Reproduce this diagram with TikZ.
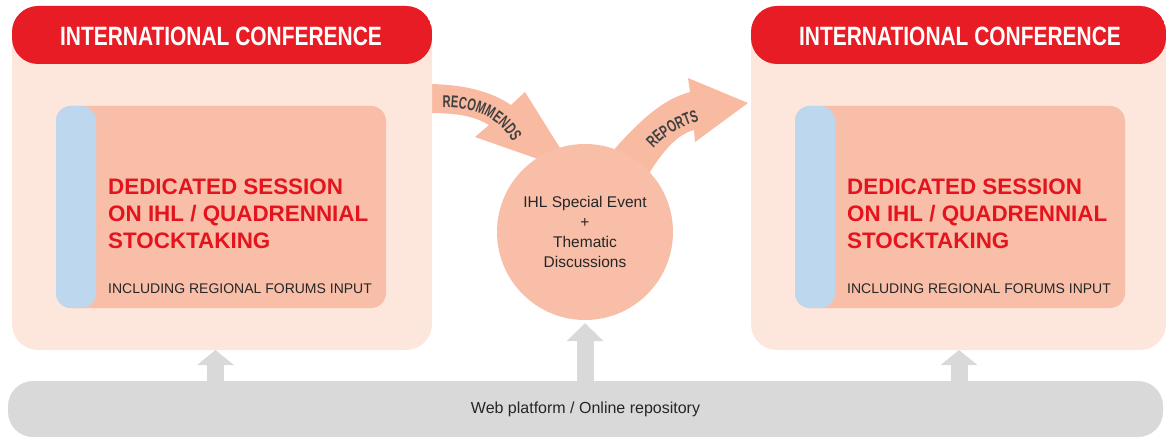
\documentclass[tikz,border=0pt]{standalone}
\usepackage{fontspec}
\setmainfont{Liberation Sans}
\newfontfamily\condfont[FakeStretch=0.79]{Liberation Sans}
\newfontfamily\arrowfont[FakeStretch=0.66, Scale=1.7]{Liberation Sans}
\usetikzlibrary{positioning, arrows.meta, calc, decorations.text}
\definecolor{hdrred}{HTML}{E81C24}
\definecolor{peach}{HTML}{FDE6DC}
\definecolor{salmon}{HTML}{F8BEA8}
\definecolor{arrowfill}{HTML}{F8BBA2}
\definecolor{stripblue}{HTML}{BDD7EE}
\definecolor{platgray}{HTML}{D9D9D9}
\definecolor{sessred}{HTML}{E3141D}
\definecolor{arrowtxt}{HTML}{404040}
\newcommand{\arrowlabel}{\arrowfont\bfseries\color{arrowtxt}}

\begin{document}
\begin{tikzpicture}[x=1pt, y=-1pt]
		\tikzstyle{conf} = [rectangle, rounded corners=26pt, fill=peach, minimum width=420pt, minimum height=344pt, inner sep=0,
		path picture={\fill[hdrred] (path picture bounding box.north west) rectangle ([yshift=-58pt]path picture bounding box.north east);}]
		\tikzstyle{session} = [rectangle, rounded corners=15pt, fill=salmon, minimum width=330pt, minimum height=202pt, inner sep=0,
		path picture={\fill[stripblue] (path picture bounding box.north west) rectangle ([xshift=40pt]path picture bounding box.south west);}]
		\tikzstyle{conftitle} = [text=white, font=\condfont\bfseries\fontsize{26.5}{30}\selectfont, inner sep=0, anchor=base]
		\tikzstyle{sesstext} = [text=sessred, font=\bfseries\fontsize{22.4}{27}\selectfont, align=left, inner sep=0, anchor=north west]
		\tikzstyle{inputtext} = [text=black!85, font=\fontsize{14}{16}\selectfont, inner sep=0, anchor=base west]
		\tikzstyle{uparrow} = [draw=platgray, line width=17pt, -{Triangle[length=15pt, width=36pt]}]
		\useasboundingbox (0,0) rectangle (1166,438);
		
		% curved block arrows
		\fill[arrowfill] (425,84) .. controls (465,84) and (492,92) .. (511,105) -- (525,92) -- (575,172) -- (475,137) -- (489,125) .. controls (472,115) and (455,113) .. (425,113) -- cycle;
		\fill[arrowfill] (605,160) .. controls (635,125) and (660,100) .. (690,92) -- (688,78) -- (748,103) -- (695,142) -- (694,130) .. controls (675,135) and (660,155) .. (645,180) -- cycle;
		\path[decorate, decoration={text along path, text align=center, text={|\arrowlabel|RECOMMENDS}}] (437,108) .. controls (478,105) and (503,121) .. (515,147);
		\path[decorate, decoration={text along path, text align=center, text={|\arrowlabel|REPORTS}}] (645,159) .. controls (662,136) and (680,125) .. (712,118);
		
		\node [circle, fill=salmon, minimum size=176pt, inner sep=0, align=center, text=black!85, font=\fontsize{15.5}{19.7}\selectfont] (event) at (585,232) {IHL Special Event\\+\\Thematic\\Discussions};
		
		% conferences
		\node [conf] (confL) at (222,178) {};
		\node [conf, minimum width=415pt] (confR) at (958.5,178) {};
		\node [conftitle] (titleL) at (221,46) {INTERNATIONAL CONFERENCE};
		\node [conftitle] (titleR) at (960,46) {INTERNATIONAL CONFERENCE};
		\node [session] (sessL) at (221,207) {};
		\node [session] (sessR) at (960,207) {};
		\node [sesstext] (dedL) at (108,179) {DEDICATED SESSION\\ON IHL / QUADRENNIAL\\STOCKTAKING};
		\node [sesstext] (dedR) at (847,179) {DEDICATED SESSION\\ON IHL / QUADRENNIAL\\STOCKTAKING};
		\node [inputtext] (inL) at (108,293) {INCLUDING REGIONAL FORUMS INPUT};
		\node [inputtext] (inR) at (847,293) {INCLUDING REGIONAL FORUMS INPUT};
		
		% platform
		\node [rectangle, rounded corners=25pt, fill=platgray, minimum width=1155pt, minimum height=56pt, text=black!85, font=\fontsize{16}{18}\selectfont] (platform) at (585.5,409) {Web platform / Online repository};
		\coordinate (tipL) at (215.5,350);
		\coordinate (tipR) at (959,350);
		\draw [uparrow] (platform.north -| tipL) -- (tipL);
		\draw [uparrow, -{Triangle[length=18pt, width=36pt]}] (platform.north -| event.south) -- ([yshift=-3pt]event.south);
		\draw [uparrow] (platform.north -| tipR) -- (tipR);
\end{tikzpicture}
\end{document}
